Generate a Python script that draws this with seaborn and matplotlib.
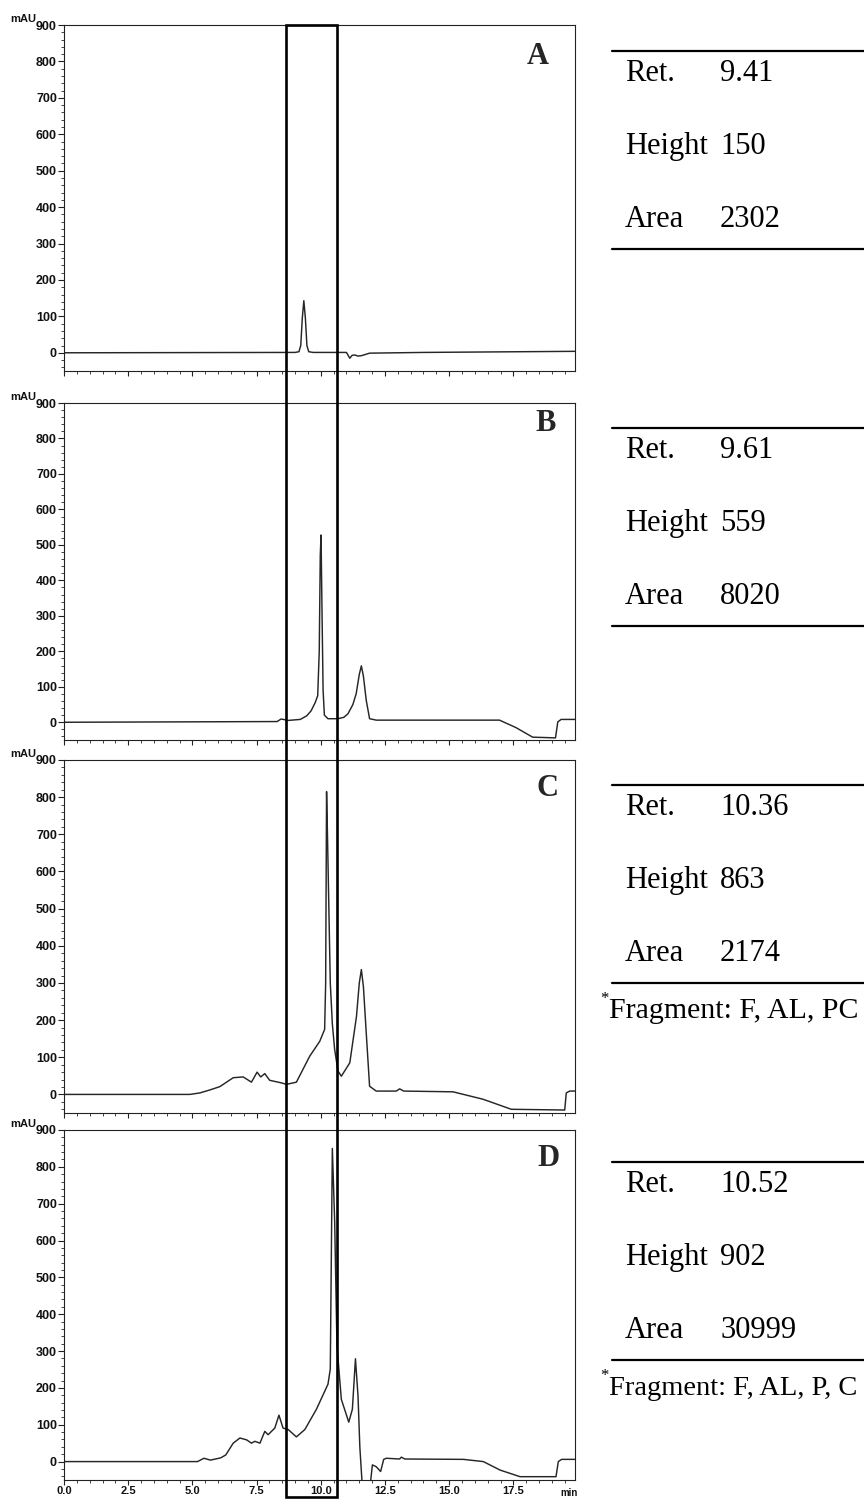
import matplotlib
matplotlib.use("Agg")
import matplotlib.pyplot as plt
import seaborn as sns
from matplotlib.patches import Rectangle
from matplotlib.lines import Line2D
from matplotlib import transforms
from matplotlib.ticker import MultipleLocator, FormatStrFormatter

# ---- chromatogram traces (retention time in min, absorbance in mAU) ----
a_time = [0.0, 9.00, 9.15, 9.22, 9.28, 9.34, 9.40, 9.46, 9.53, 9.70, 11.00, 11.13,
          11.22, 11.32, 11.45, 11.58, 11.90, 14.00, 19.90]
a_signal = [0, 1, 3, 20, 95, 143, 95, 20, 3, 1, 1, -15, -7, -6, -9, -8, -1, 1, 4]

b_time = [0.0, 8.30, 8.45, 8.55, 8.70, 9.20, 9.45, 9.62, 9.78, 9.88, 9.94, 9.98,
          10.01, 10.05, 10.09, 10.14, 10.28, 10.67, 10.90, 11.06, 11.25, 11.38,
          11.50, 11.58, 11.66, 11.77, 11.90, 12.16, 16.96, 17.60, 18.25, 19.14,
          19.23, 19.36, 19.90]
b_signal = [0, 2, 9, 8, 5, 8, 18, 32, 55, 75, 200, 470, 528, 300, 90, 20, 10, 10,
            14, 24, 50, 81, 135, 159, 130, 62, 10, 6, 6, -15, -42, -44, 1, 8, 8]

c_time = [0.0, 4.90, 5.29, 5.68, 6.07, 6.59, 6.98, 7.30, 7.52, 7.66, 7.82, 8.01,
          8.47, 8.66, 9.05, 9.57, 9.96, 10.15, 10.19, 10.225, 10.26, 10.37, 10.45,
          10.54, 10.67, 10.80, 11.13, 11.39, 11.50, 11.58, 11.66, 11.77, 11.90,
          12.16, 12.94, 13.07, 13.23, 15.15, 16.32, 17.42, 19.50, 19.56, 19.69, 19.90]
c_signal = [0, 0, 4, 12, 21, 45, 47, 33, 60, 47, 56, 38, 31, 27, 33, 103, 143, 175,
            300, 815, 700, 300, 190, 121, 63, 49, 85, 210, 300, 336, 290, 166, 22,
            9, 9, 15, 9, 7, -13, -40, -42, 4, 9, 9]

d_time = [0.0, 5.20, 5.45, 5.70, 6.10, 6.30, 6.59, 6.85, 7.11, 7.30, 7.43, 7.63,
          7.82, 7.95, 8.21, 8.37, 8.53, 8.73, 9.05, 9.38, 9.83, 10.28, 10.37, 10.45,
          10.54, 10.63, 10.80, 11.09, 11.23, 11.35, 11.45, 11.52, 11.61, 11.93,
          12.01, 12.16, 12.33, 12.45, 12.55, 13.07, 13.14, 13.27, 15.55, 16.33,
          16.98, 17.76, 19.16, 19.25, 19.38, 19.90]
d_signal = [0, 0, 9, 4, 10, 18, 50, 64, 59, 50, 55, 50, 82, 73, 91, 126, 91, 87, 67,
            87, 142, 210, 251, 850, 654, 315, 169, 107, 142, 279, 178, 41, -60, -60,
            -9, -14, -27, 6, 9, 7, 12, 7, 6, 0, -23, -41, -41, 0, 6, 6]

panel_letters = ["A", "B", "C", "D"]

# ---- peak tables ----
table_labels = ["Ret.", "Height", "Area"]
ret_times = ["9.41", "9.61", "10.36", "10.52"]
peak_heights = ["150", "559", "863", "902"]
peak_areas = ["2302", "8020", "2174", "30999"]
fragments = [None, None, "Fragment: F, AL, PC", "Fragment: F, AL, P, C"]

# highlighted retention window (min)
window_start, window_end = 8.64, 10.62

W, H = 864, 1499
sns.set_theme(style="ticks")
plt.rcParams["font.family"] = ["Liberation Sans", "DejaVu Sans"]
plt.rcParams["axes.linewidth"] = 0.8

fig = plt.figure(figsize=(W / 100, H / 100), dpi=100)
fig.patch.set_facecolor("white")

# pixel boxes of the four chromatograms: left, top, right, bottom
boxes = [(64, 25, 575, 371), (64, 403, 575, 740),
         (64, 760, 575, 1113), (64, 1130, 575, 1480)]
letter_pos = [(538, 57), (546, 423), (548, 788), (548, 1158)]
table_tops = [51, 428, 785, 1162]
fragment_sizes = [None, None, 21.5, 20.5]

traces = [(a_time, a_signal), (b_time, b_signal),
          (c_time, c_signal), (d_time, d_signal)]

axes = []
for i, ((l, t, r, b), (tt, vv)) in enumerate(zip(boxes, traces)):
    ax = fig.add_axes([l / W, 1 - b / H, (r - l) / W, (b - t) / H])
    sns.lineplot(x=tt, y=vv, ax=ax, color="#262626", linewidth=1.05,
                 estimator=None, sort=False, legend=False)
    ax.set_xlim(0, 19.9)
    ax.set_ylim(-50, 900)
    ax.set_facecolor("white")
    for s in ax.spines.values():
        s.set_color("#222222")
        s.set_linewidth(0.8)
    ax.yaxis.set_major_locator(MultipleLocator(100))
    ax.yaxis.set_minor_locator(MultipleLocator(20))
    ax.xaxis.set_major_locator(MultipleLocator(2.5))
    ax.xaxis.set_minor_locator(MultipleLocator(0.5))
    ax.xaxis.set_major_formatter(FormatStrFormatter("%.1f"))
    ax.tick_params(axis="y", which="major", direction="out", length=4.5,
                   width=0.8, color="#222222", pad=0.6, labelsize=9,
                   labelcolor="#111111")
    ax.tick_params(axis="x", which="major", direction="out", length=3.5,
                   width=0.8, color="#222222", pad=0.8, labelsize=8,
                   labelcolor="#111111")
    ax.tick_params(axis="both", which="minor", direction="out", length=2.2,
                   width=0.6, color="#222222")
    for lab in ax.get_yticklabels():
        lab.set_fontweight("bold")
    if i < 3:
        ax.tick_params(axis="x", labelbottom=False)
    else:
        for lab in ax.get_xticklabels():
            lab.set_fontweight("bold")
    ax.set_xlabel("")
    ax.set_ylabel("")
    fig.text(36 / W, 1 - (t - 6) / H, "mAU", ha="right", va="center",
             fontsize=8, fontweight="bold", color="#111111")
    lx, ly = letter_pos[i]
    fig.text(lx / W, 1 - ly / H, panel_letters[i], ha="center", va="center",
             fontsize=22, fontweight="bold", family="Liberation Serif")
    axes.append(ax)

fig.text(569 / W, 1 - 1493 / H, "min", ha="center", va="center",
         fontsize=7, fontweight="bold", color="#111111")

# box marking the retention window across all panels
trans = transforms.blended_transform_factory(axes[-1].transData, fig.transFigure)
rect = Rectangle((window_start, 1 - 1497 / H), window_end - window_start,
                 (1497 - 25) / H, transform=trans, fill=False,
                 edgecolor="black", linewidth=1.9, zorder=20, clip_on=False)
fig.add_artist(rect)

# peak tables
serif = "Liberation Serif"
for i, top in enumerate(table_tops):
    bottom = top + 198
    for y in (top, bottom):
        fig.add_artist(Line2D([612 / W, 1.0], [1 - y / H, 1 - y / H],
                              transform=fig.transFigure, color="black",
                              linewidth=1.6))
    values = [ret_times[i], peak_heights[i], peak_areas[i]]
    for j, (lab, val) in enumerate(zip(table_labels, values)):
        yb = top + [30, 103, 176][j]
        fig.text(625 / W, 1 - yb / H, lab, ha="left", va="baseline",
                 fontsize=22, family=serif, color="black")
        fig.text(720 / W, 1 - yb / H, val, ha="left", va="baseline",
                 fontsize=22, family=serif, color="black")
    if fragments[i]:
        fig.text(600 / W, 1 - (bottom + 20) / H, "*", ha="left", va="baseline",
                 fontsize=12, family=serif, color="black")
        fig.text(609 / W, 1 - (bottom + 35) / H, fragments[i], ha="left",
                 va="baseline", fontsize=fragment_sizes[i], family=serif,
                 color="black")

fig.savefig("out.png", dpi=100, facecolor="white")
